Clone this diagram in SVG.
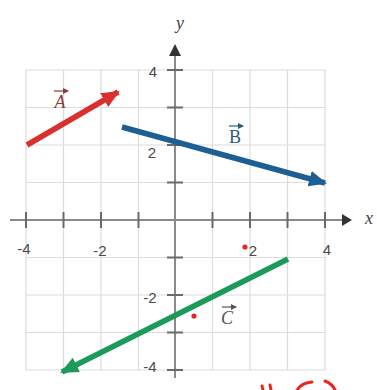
<svg xmlns="http://www.w3.org/2000/svg" width="377" height="390" viewBox="0 0 377 390">
<style>
.grid{stroke:#dcdcdc;stroke-width:1.2;fill:none}
.axis{stroke:#8a8a8a;stroke-width:2;fill:none}
.tick{stroke:#6a6a6a;stroke-width:2}
.num{font-family:"Liberation Sans",Arial,sans-serif;font-size:15px;fill:#4a4a4a;text-anchor:middle}
.lab{font-family:"Liberation Serif","Times New Roman",serif;font-size:18px;text-anchor:middle}
.vec{stroke-width:5.5;fill:none;stroke-linecap:butt}
.hand{stroke:#e8261e;stroke-width:3;fill:none;stroke-linecap:round}
</style>
<defs>
<marker id="hr" markerUnits="userSpaceOnUse" markerWidth="18" markerHeight="16" refX="16" refY="8" orient="auto"><path d="M0,0 L18,8 L0,16 z" fill="#d8302e"/></marker>
<marker id="hb" markerUnits="userSpaceOnUse" markerWidth="18" markerHeight="16" refX="16" refY="8" orient="auto"><path d="M0,0 L18,8 L0,16 z" fill="#1d5f93"/></marker>
<marker id="hg" markerUnits="userSpaceOnUse" markerWidth="18" markerHeight="16" refX="16" refY="8" orient="auto"><path d="M0,0 L18,8 L0,16 z" fill="#1c9a58"/></marker>
<marker id="ha" markerUnits="userSpaceOnUse" markerWidth="6" markerHeight="6" refX="5" refY="3" orient="auto"><path d="M0,0 L6,3 L0,6 z" fill="context-stroke"/></marker>
</defs>
<rect width="377" height="390" fill="#fff"/>
<g id="grid">
<path class="grid" d="M26,70V370M63.5,70V370M101,70V370M138.5,70V370M212.5,70V370M250,70V370M287.5,70V370M325,70V370"/>
<path class="grid" d="M26,70H325M26,107.5H325M26,145H325M26,182.5H325M26,257.5H325M26,295H325M26,332.5H325M26,370H325"/>
</g>
<g id="axes">
<path class="axis" d="M10,220H342"/>
<path class="axis" d="M175,378V56"/>
<path d="M342,214 L352,220 L342,226 z" fill="#333"/>
<path d="M169,56 L175,44 L181,56 z" fill="#333"/>
<path class="tick" d="M26,212V228M63.5,212V228M101,212V228M138.5,212V228M212.5,212V228M250,212V228M287.5,212V228M325,212V228"/>
<path class="tick" d="M167,70H183M167,107.5H183M167,145H183M167,182.5H183M167,257.5H183M167,295H183M167,332.5H183M167,370H183"/>
<text class="num" x="24" y="254">-4</text>
<text class="num" x="100" y="256">-2</text>
<text class="num" x="253" y="256">2</text>
<text class="num" x="327" y="255">4</text>
<text class="num" x="153" y="77">4</text>
<text class="num" x="152" y="158">2</text>
<text class="num" x="150" y="303">-2</text>
<text class="num" x="150" y="372">-4</text>
<text class="lab" x="180" y="29" style="font-style:italic;fill:#444">y</text>
<text class="lab" x="369" y="224" style="font-style:italic;fill:#444">x</text>
</g>
<g id="connectors">
<line id="vecA" class="vec" x1="27" y1="145" x2="118" y2="92" stroke="#d8302e" marker-end="url(#hr)"/>
<line id="vecB" class="vec" x1="122" y1="127" x2="325" y2="183" stroke="#1d5f93" marker-end="url(#hb)"/>
<line id="vecC" class="vec" x1="288" y1="259" x2="62" y2="372" stroke="#1c9a58" marker-end="url(#hg)"/>
</g>
<g id="labelA">
<text class="lab" x="60" y="108" style="font-style:italic;fill:#8a3a3a">A</text>
<line x1="54" y1="91" x2="68" y2="91" stroke="#8a3a3a" stroke-width="1.2" marker-end="url(#ha)"/>
</g>
<g id="labelB">
<text class="lab" x="235" y="143" style="fill:#2c5a78">B</text>
<line x1="229" y1="126" x2="243" y2="126" stroke="#2c5a78" stroke-width="1.2" marker-end="url(#ha)"/>
</g>
<g id="labelC">
<text class="lab" x="227" y="324" style="font-style:italic;fill:#555">C</text>
<line x1="222" y1="307" x2="236" y2="307" stroke="#555" stroke-width="1.2" marker-end="url(#ha)"/>
</g>
<g id="marks">
<circle cx="245" cy="247" r="2.6" fill="#e8261e"/>
<circle cx="194" cy="316" r="2.6" fill="#e8261e"/>
<path class="hand" d="M262,386 L263,390 M270,385 L271,390"/>
<path class="hand" d="M296,392 Q300,383 312,382"/>
<path class="hand" d="M325,381 Q333,384 336,392"/>
</g>
</svg>
